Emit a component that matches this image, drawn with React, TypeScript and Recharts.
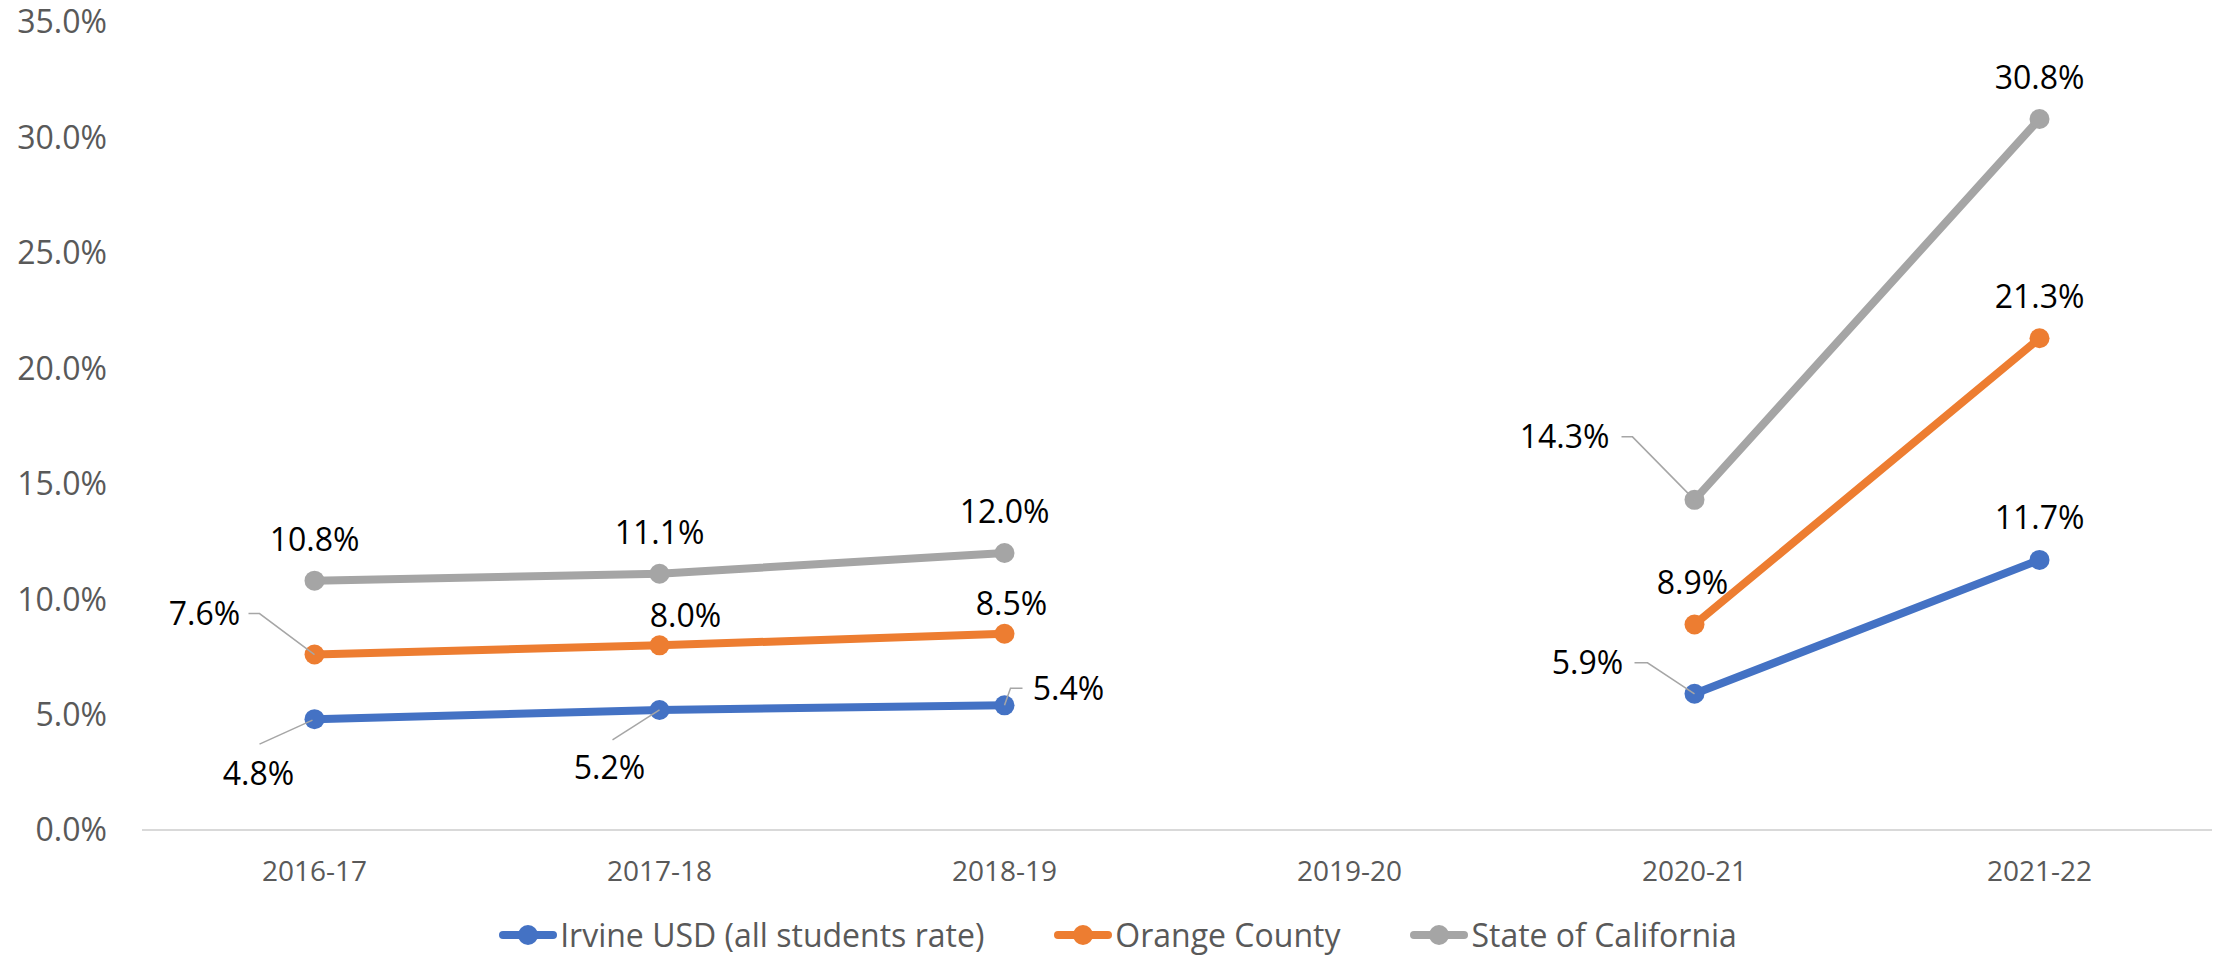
import { LineChart, Line, XAxis, YAxis, Legend, LabelList } from "recharts"

const years = ["2016-17", "2017-18", "2018-19", "2019-20", "2020-21", "2021-22"]
const irvine = [4.8, 5.2, 5.4, null, 5.9, 11.7]
const orangeCounty = [7.6, 8.0, 8.5, null, 8.9, 21.3]
const california = [10.8, 11.1, 12.0, null, 14.3, 30.8]
const yTicks = [0, 5, 10, 15, 20, 25, 30, 35]

const seriesMeta = [
  { key: "irvine", name: "Irvine USD (all students rate)", color: "#4472C4" },
  { key: "orange", name: "Orange County", color: "#ED7D31" },
  { key: "california", name: "State of California", color: "#A5A5A5" },
]

const chartData = years.map((year, i) => ({
  year,
  irvine: irvine[i],
  orange: orangeCounty[i],
  california: california[i],
}))

// label placement relative to each point (px), with optional leader line
type Place = { dx: number; dy: number; leader?: number[][] } | null

const irvinePlaces: Place[] = [
  { dx: -56, dy: 54, leader: [[-2, 1], [-55, 25]] },
  { dx: -50, dy: 58, leader: [[0, 0], [-47, 30]] },
  { dx: 64, dy: -17, leader: [[0, 0], [6, -17], [18, -17]] },
  null,
  { dx: -107, dy: -31, leader: [[0, 0], [-47, -31], [-60, -31]] },
  { dx: 0, dy: -42 },
]
const orangePlaces: Place[] = [
  { dx: -110, dy: -41, leader: [[0, 0], [-55, -41], [-66, -41]] },
  { dx: 26, dy: -30 },
  { dx: 7, dy: -30 },
  null,
  { dx: -2, dy: -42 },
  { dx: 0, dy: -42 },
]
const californiaPlaces: Place[] = [
  { dx: 0, dy: -41 },
  { dx: 0, dy: -41 },
  { dx: 0, dy: -41 },
  null,
  { dx: -130, dy: -63, leader: [[0, 0], [-62, -63], [-73, -63]] },
  { dx: 0, dy: -41 },
]

const makeLabel = (places: Place[]) => (props: any) => {
  const { x, y, value, index } = props
  const p = places[index]
  if (value == null || !p) return null
  return (
    <g>
      {p.leader && (
        <polyline
          points={p.leader.map(([a, b]) => `${x + a},${y + b}`).join(" ")}
          fill="none"
          stroke="#A6A6A6"
          strokeWidth={1.5}
        />
      )}
      <text x={x + p.dx} y={y + p.dy + 11.5} textAnchor="middle" fontSize={32} fill="#000000">
        {Number(value).toFixed(1)}%
      </text>
    </g>
  )
}

const placesFor: Record<string, Place[]> = {
  irvine: irvinePlaces,
  orange: orangePlaces,
  california: californiaPlaces,
}

const renderLegend = () => (
  <div
    style={{
      display: "flex",
      justifyContent: "center",
      alignItems: "center",
      height: 40,
      paddingLeft: 20,
      fontSize: 32,
      color: "#595959",
    }}
  >
    {seriesMeta.map((s, i) => (
      <div key={s.key} style={{ display: "flex", alignItems: "center", marginLeft: i === 0 ? 0 : 70 }}>
        <svg width={58} height={24} style={{ marginRight: 3 }}>
          <line x1={4} y1={12} x2={54} y2={12} stroke={s.color} strokeWidth={8} strokeLinecap="round" />
          <circle cx={29} cy={12} r={10} fill={s.color} />
        </svg>
        <span style={{ lineHeight: "40px" }}>{s.name}</span>
      </div>
    ))}
  </div>
)

export default function App() {
  return (
    <div
      style={{
        position: "absolute",
        left: 0,
        top: 0,
        width: 2216,
        height: 956,
        background: "#ffffff",
        fontFamily: '"Open Sans", sans-serif',
      }}
    >
      <LineChart width={2216} height={956} data={chartData} margin={{ top: 22, right: 4, left: 0, bottom: 1 }}>
        <XAxis
          dataKey="year"
          height={85}
          padding={{ left: 172.5, right: 172.5 }}
          tickLine={false}
          tickSize={0}
          tickMargin={31}
          axisLine={{ stroke: "#D9D9D9", strokeWidth: 2 }}
          tick={{ fontSize: 28, fill: "#595959" }}
          interval={0}
        />
        <YAxis
          width={142}
          domain={[0, 35]}
          ticks={yTicks}
          tickFormatter={(v) => `${Number(v).toFixed(1)}%`}
          axisLine={false}
          tickLine={false}
          tickSize={0}
          tickMargin={35}
          tick={{ fontSize: 32, fill: "#595959" }}
        />
        <Legend verticalAlign="bottom" content={renderLegend} wrapperStyle={{ left: 0, width: 2216 }} />
        {seriesMeta.map((s) => (
          <Line
            key={s.key}
            dataKey={s.key}
            name={s.name}
            stroke={s.color}
            strokeWidth={8}
            dot={{ r: 10, fill: s.color, stroke: s.color, strokeWidth: 0 }}
            activeDot={false}
            isAnimationActive={false}
          >
            <LabelList dataKey={s.key} content={makeLabel(placesFor[s.key])} />
          </Line>
        ))}
      </LineChart>
    </div>
  )
}
